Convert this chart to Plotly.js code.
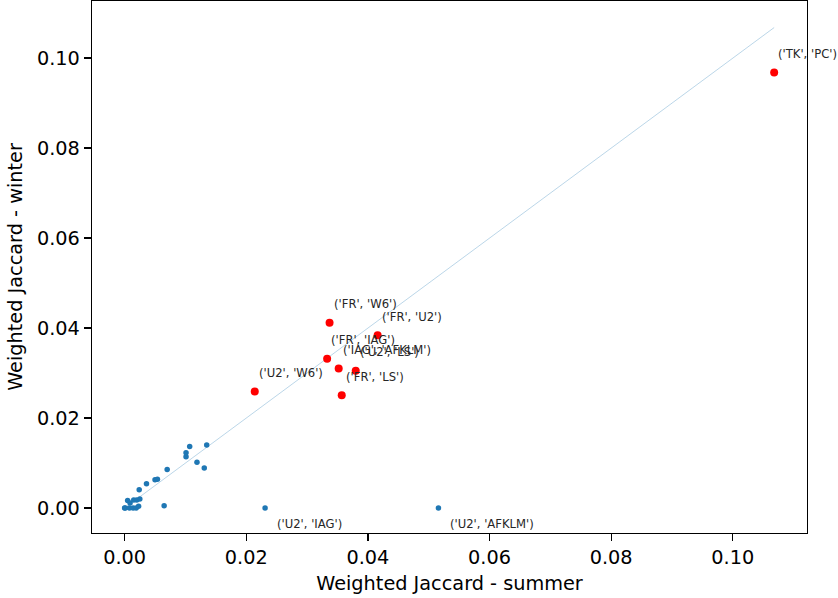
<!DOCTYPE html>
<html>
<head>
<meta charset="utf-8">
<script src="https://cdn.plot.ly/plotly-3.0.1.min.js"></script>
<style>html,body{margin:0;padding:0;background:#fff;}#chart{width:838px;height:598px;}</style>
</head>
<body>
<div id="chart"></div>
<script>
// Unlabelled pairs (summer, winter)
const otherSummer = [0.0000, 0.0001, 0.0005, 0.0008, 0.0009, 0.0014, 0.0015, 0.0019, 0.0020, 0.0023, 0.0025, 0.0024, 0.0036, 0.0050, 0.0054, 0.0065, 0.0070, 0.0101, 0.0101, 0.0107, 0.0119, 0.0131, 0.0135];
const otherWinter = [0.0000, 0.0000, 0.0017, 0.0000, 0.0011, 0.0000, 0.0018, 0.0000, 0.0018, 0.0004, 0.0020, 0.0041, 0.0054, 0.0063, 0.0064, 0.0005, 0.0086, 0.0114, 0.0123, 0.0137, 0.0102, 0.0089, 0.0140];

// Labelled low-winter pairs
const lowLabels = ["('U2', 'IAG')", "('U2', 'AFKLM')"];
const lowSummer = [0.0231, 0.0516];
const lowWinter = [0.0000, 0.0000];

// Labelled high pairs (red)
const topLabels = ["('TK', 'PC')", "('FR', 'W6')", "('FR', 'U2')", "('FR', 'IAG')", "('IAG', 'AFKLM')", "('U2', 'LS')", "('FR', 'LS')", "('U2', 'W6')"];
const topSummer = [0.1068, 0.0337, 0.0416, 0.0333, 0.0352, 0.0380, 0.0357, 0.0214];
const topWinter = [0.0968, 0.0412, 0.0384, 0.0332, 0.0310, 0.0305, 0.0251, 0.0259];

const xTicks = [0.00, 0.02, 0.04, 0.06, 0.08, 0.10];
const yTicks = [0.00, 0.02, 0.04, 0.06, 0.08, 0.10];

const maxVal = Math.max(...otherSummer, ...lowSummer, ...topSummer);

const traces = [
  {x: [0, maxVal], y: [0, maxVal], mode: 'lines', type: 'scatter',
   line: {color: 'rgba(31,119,180,0.3)', width: 1}, hoverinfo: 'skip'},
  {x: otherSummer.concat(lowSummer), y: otherWinter.concat(lowWinter), mode: 'markers', type: 'scatter',
   marker: {color: '#1f77b4', size: 5.5}},
  {x: topSummer, y: topWinter, mode: 'markers', type: 'scatter',
   marker: {color: '#ff0000', size: 8}}
];

const annFont = {family: 'DejaVu Sans', size: 11.6, color: '#262626'};
const annotations = [];
topLabels.forEach((t, i) => annotations.push({x: topSummer[i], y: topWinter[i], xref: 'x', yref: 'y', text: t,
  showarrow: false, xanchor: 'left', yanchor: 'middle', xshift: 2, yshift: 18.5, font: annFont}));
lowLabels.forEach((t, i) => annotations.push({x: lowSummer[i], y: lowWinter[i], xref: 'x', yref: 'y', text: t,
  showarrow: false, xanchor: 'left', yanchor: 'middle', xshift: 9.5, yshift: -16, font: annFont}));

const axisCommon = {
  showgrid: false, zeroline: false, showline: true, linecolor: '#000', linewidth: 1.3, mirror: true,
  ticks: 'outside', ticklen: 7, tickwidth: 1.3, tickcolor: '#000', tickformat: '.2f',
  tickfont: {family: 'DejaVu Sans', size: 19.3, color: '#000'}
};

const layout = {
  width: 838, height: 598,
  margin: {l: 92, r: 31, t: 1, b: 65},
  paper_bgcolor: '#fff', plot_bgcolor: '#fff',
  showlegend: false,
  font: {family: 'DejaVu Sans'},
  xaxis: Object.assign({}, axisCommon, {range: [-0.00536, 0.1122], tickvals: xTicks, automargin: false,
    title: {text: 'Weighted Jaccard - summer', font: {family: 'DejaVu Sans', size: 19.3, color: '#000'}, standoff: 8}}),
  yaxis: Object.assign({}, axisCommon, {range: [-0.00554, 0.1127], tickvals: yTicks, automargin: false, ticksuffix: '\u2005',
    title: {text: 'Weighted Jaccard - winter', font: {family: 'DejaVu Sans', size: 19.3, color: '#000'}, standoff: 9}}),
  annotations: annotations
};

Plotly.newPlot('chart', traces, layout, {displayModeBar: false, staticPlot: true});
</script>
</body>
</html>
